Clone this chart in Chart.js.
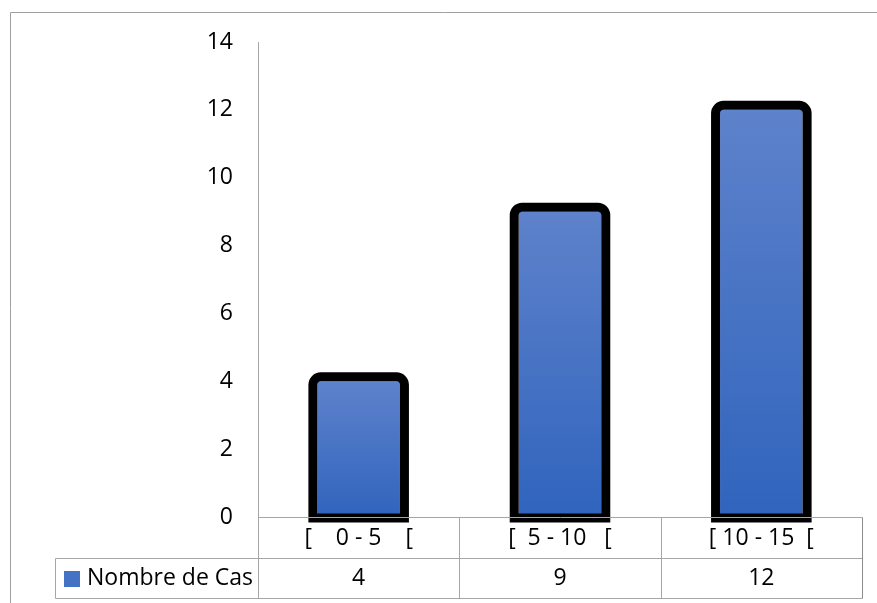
<!DOCTYPE html>
<html>
<head>
<meta charset="utf-8">
<script src="https://cdn.jsdelivr.net/npm/chart.js@4.4.1/dist/chart.umd.min.js"></script>
<style>
    html, body { margin: 0; padding: 0; background: #fff; }
    #wrap { width: 877px; height: 603px; }
</style>
</head>
<body>
<div id="wrap"><canvas id="chart" width="877" height="603"></canvas></div>
<script>
// Data
const categories = ["[    0 - 5    [", "[  5 - 10   [", "[ 10 - 15  ["];
const seriesName = "Nombre de Cas";
const cases = [4, 9, 12];
const yTicks = [0, 2, 4, 6, 8, 10, 12, 14];

const FONT = "'Open Sans', Lato, sans-serif";
const FONT_SIZE = 23;
const LINE_GREY = "#a6a6a6";
const BAR_TOP = "#5e82cb";
const BAR_BOTTOM = "#3064bd";

// per-bar vertical gradient, lighter at the top
function barGradient(context) {
    const chart = context.chart;
    const yScale = chart.scales.y;
    if (!yScale || context.parsed === undefined) return BAR_BOTTOM;
    const top = yScale.getPixelForValue(context.parsed.y);
    const base = yScale.getPixelForValue(0);
    if (!isFinite(top) || !isFinite(base) || top === base) return BAR_BOTTOM;
    const g = chart.ctx.createLinearGradient(0, top, 0, base);
    g.addColorStop(0, BAR_TOP);
    g.addColorStop(1, BAR_BOTTOM);
    return g;
}

// white background and the outer frame lines
const chartFrame = {
    id: "chartFrame",
    beforeDraw(chart) {
        const { ctx, width, height } = chart;
        ctx.save();
        ctx.fillStyle = "#fff";
        ctx.fillRect(0, 0, width, height);
        ctx.strokeStyle = "#a0a0a0";
        ctx.lineWidth = 1;
        ctx.beginPath();
        ctx.moveTo(10.5, height);
        ctx.lineTo(10.5, 12.5);
        ctx.lineTo(width, 12.5);
        ctx.stroke();
        ctx.restore();
    },
};

// thick black outline with rounded top corners around each bar
const barOutline = {
    id: "barOutline",
    afterDatasetsDraw(chart) {
        const ctx = chart.ctx;
        const meta = chart.getDatasetMeta(0);
        const lw = 9;
        const h = lw / 2;
        const rad = 8;
        ctx.save();
        ctx.strokeStyle = "#000";
        ctx.lineWidth = lw;
        meta.data.forEach((bar) => {
            const { x, y, width, base } = bar.getProps(["x", "y", "width", "base"], true);
            const l = x - width / 2 - h;
            const r = x + width / 2 + h;
            const t = y - h;
            const b = base + 1;
            ctx.beginPath();
            ctx.moveTo(l, b);
            ctx.lineTo(l, t + rad);
            ctx.arcTo(l, t, l + rad, t, rad);
            ctx.lineTo(r - rad, t);
            ctx.arcTo(r, t, r, t + rad, rad);
            ctx.lineTo(r, b);
            ctx.closePath();
            ctx.stroke();
        });
        ctx.restore();
    },
};

// data table under the plot: category row, then legend key + values
const dataTable = {
    id: "dataTable",
    afterDraw(chart) {
        const { ctx, chartArea } = chart;
        const xScale = chart.scales.x;
        const n = categories.length;
        const colW = (chartArea.right - chartArea.left) / n;
        const top = Math.round(chartArea.bottom) + 0.5;
        const mid = top + 41;
        const bottom = mid + 40;
        const keyLeft = 55.5;
        const left = Math.round(chartArea.left) + 0.5;
        const right = Math.round(chartArea.right) + 0.5;

        ctx.save();
        ctx.strokeStyle = LINE_GREY;
        ctx.lineWidth = 1;
        ctx.beginPath();
        ctx.moveTo(left, top); ctx.lineTo(right, top);
        ctx.moveTo(keyLeft, mid); ctx.lineTo(right, mid);
        ctx.moveTo(keyLeft, bottom); ctx.lineTo(right, bottom);
        ctx.moveTo(keyLeft, mid); ctx.lineTo(keyLeft, bottom);
        for (let i = 0; i < n; i++) {
            const xx = Math.round(chartArea.left + i * colW) + 0.5;
            ctx.moveTo(xx, top); ctx.lineTo(xx, bottom);
        }
        ctx.stroke();
        // right edge of the table is a shade darker
        ctx.strokeStyle = "#8c8c8c";
        ctx.beginPath();
        ctx.moveTo(right, top); ctx.lineTo(right, bottom);
        ctx.stroke();

        ctx.fillStyle = "#000";
        ctx.font = `${FONT_SIZE}px ${FONT}`;
        ctx.textAlign = "center";
        ctx.textBaseline = "middle";
        categories.forEach((c, i) => {
            const cx = xScale.getPixelForValue(i);
            ctx.fillText(c, cx, (top + mid) / 2);
            ctx.fillText(String(cases[i]), cx, (mid + bottom) / 2);
        });

        // legend key
        ctx.fillStyle = "#4472c4";
        ctx.fillRect(64, Math.round(mid) + 12, 16, 16);
        ctx.fillStyle = "#000";
        ctx.textAlign = "left";
        ctx.fillText(seriesName, 87, (mid + bottom) / 2);
        ctx.restore();
    },
};

new Chart(document.getElementById("chart"), {
    type: "bar",
    data: {
        labels: categories,
        datasets: [
            {
                label: seriesName,
                data: cases,
                backgroundColor: barGradient,
                borderWidth: 0,
                barPercentage: 0.41,
                categoryPercentage: 1,
            },
        ],
    },
    options: {
        responsive: false,
        animation: false,
        layout: {
            padding: { left: 0, top: 42, right: 15, bottom: 86 },
        },
        plugins: {
            legend: { display: false },
            tooltip: { enabled: false },
        },
        scales: {
            x: {
                display: false,
            },
            y: {
                min: yTicks[0],
                max: yTicks[yTicks.length - 1],
                afterFit(scale) {
                    scale.width = 258;
                },
                ticks: {
                    stepSize: yTicks[1] - yTicks[0],
                    padding: 25,
                    color: "#000",
                    font: { family: FONT, size: FONT_SIZE },
                },
                grid: { display: false, drawTicks: false },
                border: { display: true, color: LINE_GREY, width: 1 },
            },
        },
    },
    plugins: [chartFrame, barOutline, dataTable],
});
</script>
</body>
</html>
